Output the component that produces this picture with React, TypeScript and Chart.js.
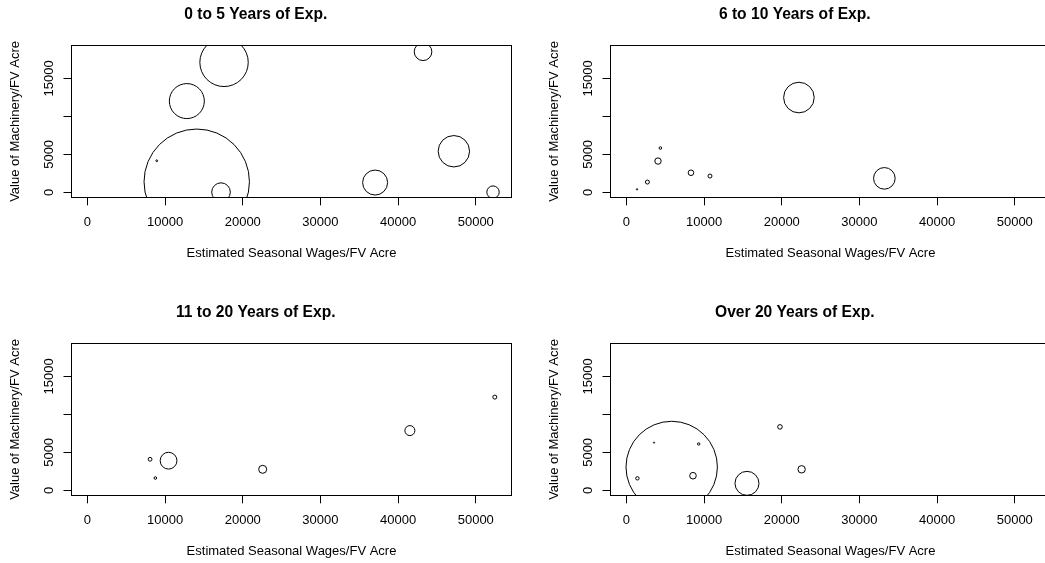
import React, { useEffect, useRef } from "react";
import { Chart, registerables } from "chart.js";

Chart.register(...registerables);

// ---------- data ----------
const panelTitles = [
  "0 to 5 Years of Exp.",
  "6 to 10 Years of Exp.",
  "11 to 20 Years of Exp.",
  "Over 20 Years of Exp.",
];
const xAxisLabel = "Estimated Seasonal Wages/FV Acre";
const yAxisLabel = "Value of Machinery/FV Acre";

const xTickValues = [0, 10000, 20000, 30000, 40000, 50000];
const xTickLabels = ["0", "10000", "20000", "30000", "40000", "50000"];
const yTickValues = [0, 5000, 10000, 15000];
const yTickLabels = ["0", "5000", "", "15000"];

// 0 to 5 years
const wages0 = [14075, 17590, 12800, 8930, 17200, 37040, 43210, 47180, 52220];
const machinery0 = [1395, 17105, 12010, 4160, 30, 1290, 18500, 5410, 30];
const bubble0 = [52.7, 24.2, 17.5, 0.9, 9.3, 12.5, 8.8, 15.7, 6.2];

// 6 to 10 years
const wages1 = [1364, 2700, 4066, 4375, 8312, 10757, 22208, 33209];
const machinery1 = [395, 1355, 4118, 5829, 2579, 2145, 12474, 1842];
const bubble1 = [0.7, 2, 3.2, 1.3, 2.8, 2, 15.3, 10.8];

// 11 to 20 years
const wages2 = [8066, 8748, 10446, 22565, 41516, 52451];
const machinery2 = [4090, 1623, 3905, 2770, 7863, 12269];
const bubble2 = [1.9, 1.3, 8.4, 4, 5, 2];

// over 20 years
const wages3 = [5829, 3555, 9303, 1415, 8570, 15522, 19767, 22555];
const machinery3 = [3074, 6280, 6108, 1583, 1926, 923, 8351, 2770];
const bubble3 = [45.7, 0.6, 1.2, 1.7, 3.3, 12, 2.3, 3.7];

const panelData = [
  [wages0, machinery0, bubble0],
  [wages1, machinery1, bubble1],
  [wages2, machinery2, bubble2],
  [wages3, machinery3, bubble3],
];

// ---------- layout ----------
const CANVAS_W = 583;
const CANVAS_H = 281;
const Y_AXIS_W = 71.5;
const X_AXIS_H = 83.7;
const canvasPos = [
  { left: 0, top: 0 },
  { left: 539, top: 0 },
  { left: 0, top: 298.3 },
  { left: 539, top: 298.3 },
];

const FONT = "'Liberation Sans', Arial, Helvetica, sans-serif";

const boxPlugin = {
  id: "rbox",
  afterDraw(chart: any) {
    const { ctx, chartArea: a } = chart;
    const l = Math.floor(a.left) + 0.5;
    const t = Math.floor(a.top) + 0.5;
    const r = Math.floor(a.right) + 0.5;
    const b = Math.floor(a.bottom) + 0.5;
    ctx.save();
    ctx.strokeStyle = "#000";
    ctx.lineWidth = 1;
    ctx.strokeRect(l, t, r - l, b - t);
    ctx.restore();
  },
};

function makeConfig(i: number): any {
  const [xs, ys, ss] = panelData[i];
  const points = xs.map((x, k) => ({ x, y: ys[k], r: ss[k] }));
  return {
    type: "bubble",
    data: {
      datasets: [
        {
          data: points,
          borderColor: "#000",
          backgroundColor: "rgba(0,0,0,0)",
          borderWidth: 1,
          hoverBorderWidth: 1,
          clip: 0,
        },
      ],
    },
    plugins: [boxPlugin],
    options: {
      animation: false,
      responsive: false,
      events: [],
      layout: {
        autoPadding: false,
        padding: { left: 0, right: Y_AXIS_W, top: 0, bottom: 0 },
      },
      plugins: {
        legend: { display: false },
        tooltip: { enabled: false },
        title: {
          display: true,
          text: panelTitles[i],
          color: "#000",
          font: { family: FONT, size: 15.6, weight: "bold" },
          padding: { top: 5.6, bottom: 21.2 },
        },
      },
      scales: {
        x: {
          type: "linear",
          min: -2050,
          max: 54600,
          afterBuildTicks: (axis: any) => {
            axis.ticks = xTickValues.map((v) => ({ value: v }));
          },
          afterFit: (axis: any) => {
            axis.height = X_AXIS_H;
          },
          grid: {
            display: true,
            drawOnChartArea: false,
            drawTicks: true,
            tickLength: 8,
            color: "#000",
            lineWidth: 1,
          },
          border: { display: false },
          ticks: {
            autoSkip: false,
            maxRotation: 0,
            minRotation: 0,
            padding: 9.4,
            color: "#000",
            font: { family: FONT, size: 13 },
            callback: (_v: any, idx: number) => xTickLabels[idx],
          },
          title: {
            display: true,
            text: xAxisLabel,
            color: "#000",
            font: { family: FONT, size: 13 },
            padding: { top: 0, bottom: 19.4 },
          },
        },
        y: {
          type: "linear",
          min: -650,
          max: 19320,
          afterBuildTicks: (axis: any) => {
            axis.ticks = yTickValues.map((v) => ({ value: v }));
          },
          afterFit: (axis: any) => {
            axis.width = Y_AXIS_W;
          },
          grid: {
            display: true,
            drawOnChartArea: false,
            drawTicks: true,
            tickLength: 8,
            color: "#000",
            lineWidth: 1,
          },
          border: { display: false },
          ticks: {
            autoSkip: false,
            minRotation: 90,
            maxRotation: 90,
            crossAlign: "center",
            padding: -4.4,
            color: "#000",
            font: { family: FONT, size: 13 },
            callback: (_v: any, idx: number) => yTickLabels[idx],
          },
          title: {
            display: true,
            text: yAxisLabel,
            color: "#000",
            font: { family: FONT, size: 13 },
            padding: { top: 7.7, bottom: 0 },
          },
        },
      },
    },
  };
}

export default function App() {
  const refs = [
    useRef<HTMLCanvasElement>(null),
    useRef<HTMLCanvasElement>(null),
    useRef<HTMLCanvasElement>(null),
    useRef<HTMLCanvasElement>(null),
  ];

  useEffect(() => {
    const charts: Chart[] = [];
    refs.forEach((ref, i) => {
      if (ref.current) {
        charts.push(new Chart(ref.current, makeConfig(i)));
      }
    });
    return () => charts.forEach((c) => c.destroy());
  }, []);

  return (
    <div
      style={{
        position: "absolute",
        left: 0,
        top: 0,
        width: 1045,
        height: 563,
        overflow: "hidden",
        background: "#fff",
      }}
    >
      {refs.map((ref, i) => (
        <canvas
          key={i}
          ref={ref}
          width={CANVAS_W}
          height={CANVAS_H}
          style={{
            position: "absolute",
            left: canvasPos[i].left,
            top: canvasPos[i].top,
            width: CANVAS_W,
            height: CANVAS_H,
          }}
        />
      ))}
    </div>
  );
}
